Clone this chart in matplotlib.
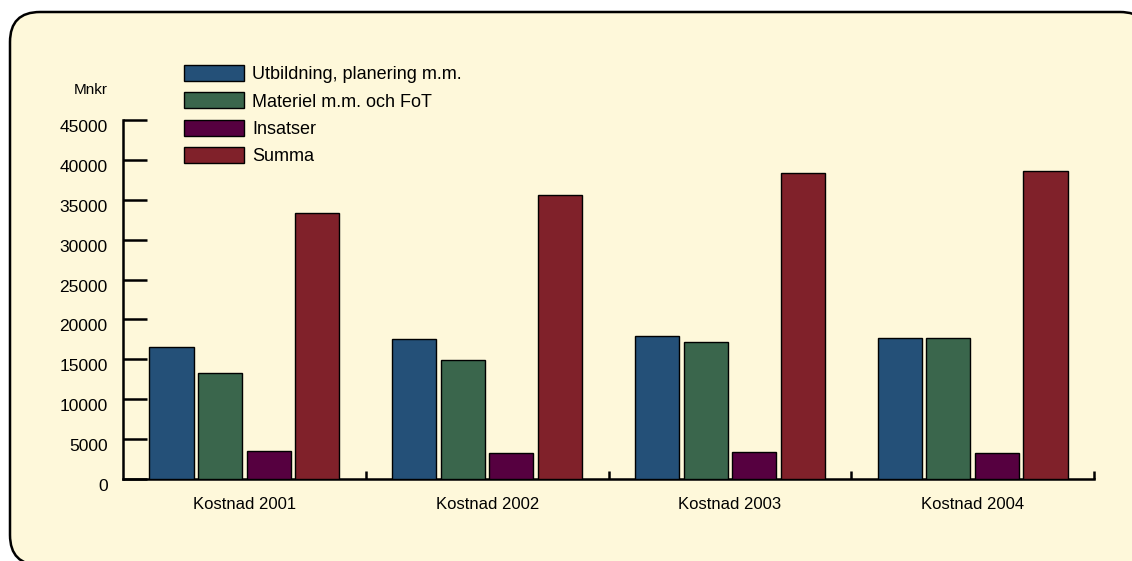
import numpy as np
import matplotlib
matplotlib.use("Agg")
import matplotlib.pyplot as plt
from matplotlib.patches import FancyBboxPatch
from matplotlib.transforms import IdentityTransform, ScaledTranslation

# ------------------------------------------
# Data (Mnkr)
# ------------------------------------------
categories = ["Kostnad 2001", "Kostnad 2002", "Kostnad 2003", "Kostnad 2004"]
series_names = ["Utbildning, planering m.m.", "Materiel m.m. och FoT", "Insatser", "Summa"]
utbildning = [16550, 17550, 17900, 17650]
materiel = [13300, 14900, 17150, 17650]
insatser = [3500, 3250, 3400, 3250]
summa = [33350, 35600, 38350, 38650]
yticks = [0, 5000, 10000, 15000, 20000, 25000, 30000, 35000, 40000, 45000]

colors = ["#245078", "#3a664c", "#560040", "#80212a"]
bg = "#fef8da"

plt.rcParams['font.family'] = ['Liberation Sans', 'DejaVu Sans']
plt.rcParams['font.size'] = 12

W, H = 1132, 561
fig = plt.figure(figsize=(W / 100, H / 100), dpi=100)
fig.patch.set_facecolor("white")

# rounded cream panel behind everything (pixel coords)
panel = FancyBboxPatch((10, -4), 1140, 553, boxstyle="round,pad=0,rounding_size=30",
                       transform=IdentityTransform(), facecolor=bg, edgecolor="black",
                       linewidth=1.8, zorder=-10)
fig.patches.append(panel)

ax = fig.add_axes([123 / W, 1 - 479 / H, (1094 - 123) / W, (479 - 120) / H])
ax.set_facecolor("none")
ax.set_zorder(1)

x = np.arange(len(categories))
step = 0.2
width = 0.182
all_series = [utbildning, materiel, insatser, summa]
for i, (vals, name) in enumerate(zip(all_series, series_names)):
    ax.bar(x + (i - 1.5) * step, vals, width, color=colors[i], edgecolor="black",
           linewidth=1.0, label=name, zorder=3)

ax.set_xlim(-0.5, 3.5)
ax.set_ylim(0, 45000)

for s in ["top", "right"]:
    ax.spines[s].set_visible(False)
for s in ["left", "bottom"]:
    ax.spines[s].set_linewidth(1.8)

ax.set_yticks(yticks)
ax.set_yticklabels([str(v) for v in yticks], fontsize=12.5)
ax.tick_params(axis="y", direction="in", length=17, width=1.8, pad=11)
# labels sit a little below their tick marks in the original
shift = ScaledTranslation(0, -6 / 100, fig.dpi_scale_trans)
for lbl in ax.get_yticklabels():
    lbl.set_transform(lbl.get_transform() + shift)

ax.set_xticks(x)
ax.set_xticklabels(categories)
ax.tick_params(axis="x", which="major", length=0, pad=13)
ax.set_xticks([0.5, 1.5, 2.5, 3.5], minor=True)
ax.tick_params(axis="x", which="minor", direction="in", length=6, width=1.8)

fig.text(108 / W, 1 - 90 / H, "Mnkr", ha="right", va="center", fontsize=11)

fig.legend(loc="upper left", bbox_to_anchor=(184 / W, 1 - 65 / H), frameon=False,
           handlelength=3.33, handleheight=1.0, handletextpad=0.45, labelspacing=0.5,
           borderpad=0, borderaxespad=0, fontsize=13)

fig.savefig("out.png", dpi=100, facecolor="white")
